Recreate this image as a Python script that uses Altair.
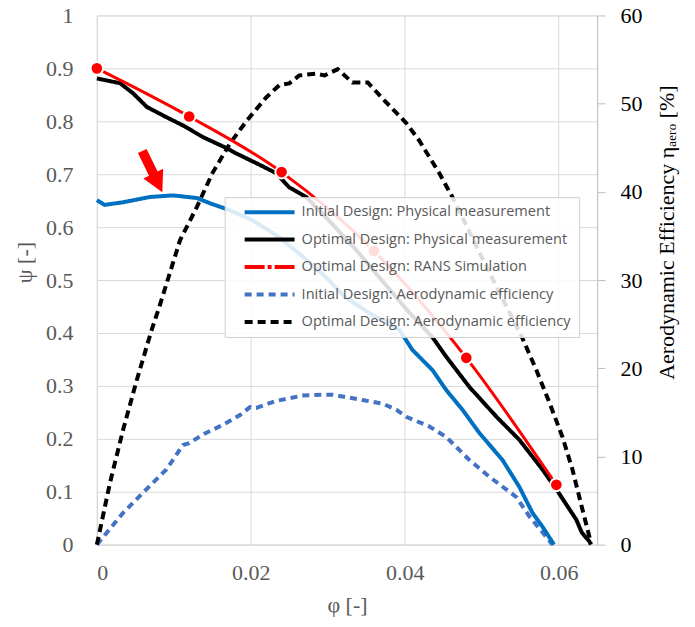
import altair as alt
import pandas as pd

# ---------------- data ----------------
SERIES = [
    "Initial Design: Physical measurement",
    "Optimal Design: Physical measurement",
    "Optimal Design: RANS Simulation",
    "Initial Design: Aerodynamic efficiency",
    "Optimal Design: Aerodynamic efficiency",
]

phi_init = [0, 0.001, 0.0034, 0.0069, 0.0099, 0.013, 0.0147, 0.0169, 0.0202, 0.0235,
            0.0267, 0.03, 0.0322, 0.0355, 0.0376, 0.0393, 0.041, 0.0436, 0.0454, 0.0475,
            0.0497, 0.0527, 0.0549, 0.0566, 0.0579, 0.0594]
psi_init = [0.651, 0.642, 0.647, 0.657, 0.66, 0.655, 0.645, 0.634, 0.613, 0.583,
            0.545, 0.502, 0.468, 0.437, 0.42, 0.406, 0.368, 0.33, 0.292, 0.255,
            0.211, 0.16, 0.109, 0.06, 0.034, 0.0]

phi_opt = [0, 0.003, 0.0047, 0.0065, 0.009, 0.0112, 0.0138, 0.0169, 0.018, 0.0207,
           0.0233, 0.025, 0.0272, 0.03, 0.0335, 0.037, 0.0405, 0.0436, 0.0454, 0.0484,
           0.0519, 0.0549, 0.0579, 0.06, 0.0623, 0.063, 0.064, 0.0642]
psi_opt = [0.881, 0.872, 0.853, 0.827, 0.808, 0.792, 0.77, 0.749, 0.74, 0.721,
           0.702, 0.675, 0.657, 0.615, 0.56, 0.5, 0.44, 0.392, 0.355, 0.298,
           0.242, 0.198, 0.142, 0.098, 0.047, 0.023, 0.006, 0.0]

phi_rans = [0, 0.012, 0.024, 0.036, 0.048, 0.0597]
psi_rans = [0.9, 0.809, 0.704, 0.555, 0.353, 0.113]

phi_eta_init = [0, 0.0034, 0.006, 0.009, 0.0112, 0.012, 0.0138, 0.0164, 0.0186, 0.0199,
                0.0207, 0.0233, 0.0267, 0.0293, 0.0306, 0.0345, 0.0371, 0.0389, 0.0402,
                0.0432, 0.0454, 0.0484, 0.051, 0.0545, 0.0562, 0.0579, 0.0592]
eta_init = [0, 3.6, 5.9, 8.5, 11.3, 11.5, 12.5, 13.6, 14.7, 15.6,
            15.5, 16.3, 16.9, 17.0, 17.0, 16.4, 16.0, 15.3, 14.5,
            13.4, 12.2, 9.6, 7.7, 5.4, 3.2, 1.4, 0]

phi_eta_opt = [0, 0.0017, 0.0034, 0.0052, 0.0071, 0.0082, 0.0108, 0.013, 0.015, 0.0173,
               0.0195, 0.022, 0.0237, 0.025, 0.0263, 0.0285, 0.0296, 0.0313, 0.0332,
               0.0352, 0.0371, 0.0402, 0.0419, 0.0445, 0.0462, 0.05, 0.0553, 0.0571,
               0.0588, 0.0605, 0.0618, 0.063, 0.0642]
eta_opt = [0, 7.0, 13.0, 18.7, 24.3, 27.2, 34.5, 38.3, 42.1, 45.5,
           48.1, 50.7, 52.1, 52.3, 53.2, 53.4, 53.2, 53.9, 52.4,
           52.4, 50.6, 47.8, 45.8, 42.1, 39.4, 32.6, 23.4, 19.8,
           16.1, 12.2, 8.5, 4.3, 0.2]

# annotation arrow (centre, in data units)
arrow_phi = [0.0072]
arrow_psi = [0.705]

x_ticks = [0, 0.02, 0.04, 0.06]
psi_ticks = [0, 0.1, 0.2, 0.3, 0.4, 0.5, 0.6, 0.7, 0.8, 0.9, 1.0]
eta_ticks = [0, 10, 20, 30, 40, 50, 60]

# ---------------- styling ----------------
COLORS = ["#0070C0", "#000000", "#FF0000", "#4472C4", "#000000"]
DASHES = [[1, 0], [1, 0], [20, 3, 4, 3, 20], [7, 5], [8, 5]]
WIDTHS = [4, 4, 3, 3.5, 3.5]
SERIF = "'Liberation Serif', 'Times New Roman', 'DejaVu Serif', serif"
GRAY = "#595959"

psi_df = pd.concat([
    pd.DataFrame({"series": SERIES[0], "phi": phi_init, "psi": psi_init}),
    pd.DataFrame({"series": SERIES[1], "phi": phi_opt, "psi": psi_opt}),
], ignore_index=True)
rans_df = pd.DataFrame({"series": SERIES[2], "phi": phi_rans, "psi": psi_rans})
eta_df = pd.concat([
    pd.DataFrame({"series": SERIES[3], "phi": phi_eta_init, "eta": eta_init}),
    pd.DataFrame({"series": SERIES[4], "phi": phi_eta_opt, "eta": eta_opt}),
], ignore_index=True)
arrow_df = pd.DataFrame({"phi": arrow_phi, "psi": arrow_psi})

legend = alt.Legend(
    title=None, orient="none", legendX=128, legendY=182,
    symbolType="stroke", symbolSize=2500, clipHeight=14, rowPadding=12.5,
    fillColor="rgba(255,255,255,0.86)", strokeColor="#d0d0d0", padding=8,
    labelFont="Open Sans", labelFontSize=14.6, labelColor=GRAY, labelLimit=400,
    symbolOffset=10, labelOffset=5,
)

color = alt.Color("series:N", scale=alt.Scale(domain=SERIES, range=COLORS), legend=legend, sort=SERIES)
dash = alt.StrokeDash("series:N", scale=alt.Scale(domain=SERIES, range=DASHES), legend=legend, sort=SERIES)
width = alt.StrokeWidth("series:N", scale=alt.Scale(domain=SERIES, range=WIDTHS), legend=legend, sort=SERIES)

x_enc = alt.X("phi:Q", scale=alt.Scale(domain=[0, 0.065], nice=False, zero=False),
              axis=alt.Axis(values=x_ticks, format=".2~f", title="φ [-]", grid=True,
                            gridColor="#d9d9d9", ticks=False, domainColor="#d9d9d9",
                            labelFont=SERIF, labelFontSize=22, labelColor=GRAY, labelPadding=18,
                            titleFont=SERIF, titleFontSize=22, titleColor=GRAY,
                            titleFontWeight="normal", titleY=60, titleBaseline="middle"))

psi_axis = alt.Axis(orient="left", values=psi_ticks, format=".1~f", title="ψ [-]", grid=True,
                    gridColor="#d9d9d9", ticks=False, domainColor="#d9d9d9",
                    labelFont=SERIF, labelFontSize=22, labelColor=GRAY, labelPadding=24,
                    titleFont=SERIF, titleFontSize=22, titleColor=GRAY, titleFontWeight="normal",
                    titleAngle=270, titleX=-72, titleY=247, titleAlign="center",
                    titleBaseline="middle")
psi_y = alt.Y("psi:Q", scale=alt.Scale(domain=[0, 1], nice=False), axis=psi_axis)

eta_axis = alt.Axis(orient="right", values=eta_ticks, format="d",
                    title="Aerodynamic Efficiency ηₐₑᵣₒ [%]", grid=False,
                    ticks=True, tickSize=8, tickColor="#bfbfbf", domainColor="#bfbfbf",
                    labelFont=SERIF, labelFontSize=22, labelColor="#000000", labelPadding=15,
                    titleFont=SERIF, titleFontSize=22, titleColor="#000000",
                    titleFontWeight="normal", titleAngle=270, titleX=69, titleY=217,
                    titleAlign="center", titleBaseline="middle")
eta_y = alt.Y("eta:Q", scale=alt.Scale(domain=[0, 60], nice=False), axis=eta_axis)

eta_lines = alt.Chart(eta_df).mark_line(strokeCap="butt").encode(
    x=x_enc, y=eta_y, color=color, strokeDash=dash, strokeWidth=width
)

psi_lines = alt.Chart(psi_df).mark_line().encode(
    x=x_enc, y=psi_y, color=color, strokeDash=dash, strokeWidth=width
)
rans_line = alt.Chart(rans_df).mark_line(strokeWidth=3, interpolate="monotone").encode(
    x=x_enc, y=psi_y, color=color
)
rans_pts = alt.Chart(rans_df).mark_point(filled=True, size=160, fill="#FF0000",
                                         stroke="white", strokeWidth=2, opacity=1).encode(
    x=x_enc, y=psi_y
)
ARROW = "M -0.21 -1 L 0.21 -1 L 0.21 0.1 L 0.48 0.1 L 0 1 L -0.48 0.1 L -0.21 0.1 Z"
arrow = alt.Chart(arrow_df).mark_point(shape=ARROW, size=2100, angle=334, filled=True,
                                       fill="#FF0000", strokeWidth=0, opacity=1).encode(
    x=x_enc, y=psi_y
)

psi_layer = alt.layer(psi_lines, rans_line, rans_pts, arrow)

GRADIENT = ("{gradient: 'linear', x1: 0, y1: 0, x2: 0, y2: 1, "
            "stops: [{offset: 0, color: '#ffffff'}, {offset: 1, color: '#eeeeee'}]}")

chart = alt.layer(eta_lines, psi_layer).resolve_scale(y="independent").properties(
    width=501, height=530,
    autosize=alt.AutoSizeParams(type="none"),
    padding={"left": 89, "top": 7, "right": 90, "bottom": 82},
).configure_view(
    stroke=None,
    fill={"expr": GRADIENT},
).configure(background="white")

chart.save("out.html", embed_options={"renderer": "svg", "actions": False})
